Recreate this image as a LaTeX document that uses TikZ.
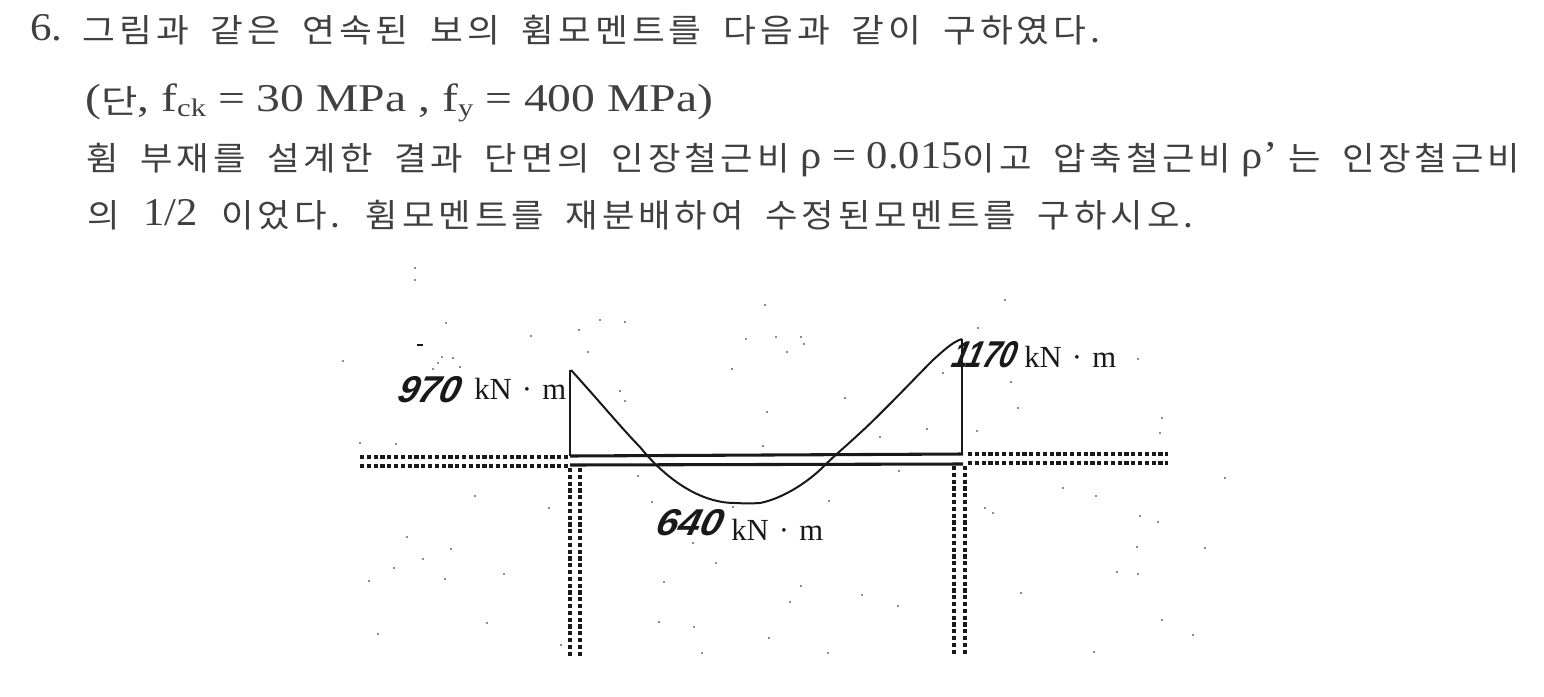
\documentclass[tikz,border=0pt]{standalone}
\usepackage{fontspec}
\setmainfont{Liberation Serif}
\newfontfamily\krfont[LetterSpace=11]{Noto Sans CJK KR}
\newfontfamily\hwfont{Liberation Sans}
\newcommand{\kr}[1]{\raisebox{-2pt}{\fontsize{24.5}{26}\krfont\spaceskip=15pt\relax #1}}
\newcommand{\fitline}[2]{\resizebox{#1}{\height}{#2}}
\newcommand{\hand}[2]{\resizebox{#1}{\height}{\fontsize{28}{30}\selectfont\hwfont\bfseries\itshape #2}}
\newcommand{\subs}[1]{\raisebox{-4pt}{\fontsize{19}{19}\selectfont #1}}
\definecolor{ink}{gray}{0.25}
\definecolor{scan}{gray}{0.1}
\tikzset{
  textline/.style={anchor=base west,inner sep=0pt,text=ink,font=\fontsize{29.5}{32}\selectfont},
  unitlabel/.style={anchor=base west,inner sep=0pt,text=scan,font=\fontsize{23}{26}\selectfont},
  handnum/.style={anchor=base west,inner sep=0pt,text=scan,xslant=0.25},
  dotted rail/.style={draw=scan,line width=3pt,dash pattern=on 3.2pt off 1.9pt},
  beamline/.style={draw=scan,line width=2.3pt},
  thinline/.style={draw=scan,line width=1.1pt},
  curve line/.style={draw=scan,line width=1.5pt,line join=round}
}
\begin{document}
\begin{tikzpicture}[x=0.75pt,y=-0.75pt]
\useasboundingbox (0,0) rectangle (1544,696);
% problem text
\node[textline] (l1) at (30,40) {\fitline{1070\dimexpr0.75pt\relax}{6.\hspace{4pt} \kr{그림과 같은 연속된 보의 휨모멘트를 다음과 같이 구하였다.}}};
\node[textline] (l2) at (85,111) {\fitline{628\dimexpr0.75pt\relax}{(\kr{단}, f\subs{ck} = 30 MPa , f\subs{y} = 400 MPa)}};
\node[textline] (l3) at (86,168) {\fitline{1434\dimexpr0.75pt\relax}{\kr{휨 부재를 설계한 결과 단면의 인장철근비} ρ = 0.015\kr{이고 압축철근비} ρ' \kr{는 인장철근비}}};
\node[textline] (l4) at (87,225) {\fitline{1106\dimexpr0.75pt\relax}{\kr{의}\hspace{9pt} 1/2\hspace{9pt} \kr{이었다. 휨모멘트를 재분배하여 수정된모멘트를 구하시오.}}};
% beam rails
\draw[dotted rail] (360,457) -- (570,457);
\draw[dotted rail] (360,466) -- (570,466);
\draw[dotted rail] (968,454) -- (1168,454);
\draw[dotted rail] (968,463) -- (1168,463);
\draw[dotted rail] (569.5,468) -- (569.5,658);
\draw[dotted rail] (580,468) -- (580,658);
\draw[dotted rail] (954,466) -- (954,654);
\draw[dotted rail] (965,466) -- (965,654);
\draw[beamline] (570,456) -- (963,454);
\draw[beamline] (570,465) -- (963,464);
% moment diagram
\draw[thinline] (570,370) -- (570,456);
\draw[thinline] (962,339) -- (962,454);
\draw[curve line] (571,370) .. controls (600,402) and (625,432) .. (640,447)
  .. controls (660,472) and (695,503) .. (735,503)
  .. controls (745,503.5) and (752,503.5) .. (760,503)
  .. controls (785,498) and (810,480) .. (823,467)
  .. controls (835,455) and (845,447) .. (860,433)
  .. controls (880,415) and (915,378) .. (933,360)
  .. controls (942,352) and (952,342) .. (962,339);
% labels
\node[handnum] (m1) at (396,402) {\hand{62\dimexpr0.75pt\relax}{970}};
\node[unitlabel] (u1) at (474,399) {kN\,\,·\,\,m};
\node[handnum] (m2) at (950,367) {\hand{64\dimexpr0.75pt\relax}{1170}};
\node[unitlabel] (u2) at (1024,367) {kN\,\,·\,\,m};
\node[handnum] (m3) at (654,535) {\hand{66\dimexpr0.75pt\relax}{640}};
\node[unitlabel] (u3) at (731,540) {kN\,\,·\,\,m};
% scan specks
\foreach \p in {(415,268),(415,280),(765,305),(1005,300),(600,320),(1225,478),(1205,548),(1162,620),(1193,635),
 (446,323),(625,322),(579,330),(531,336),(343,361),(442,357),(438,363),(460,367),(433,369),(453,358),(588,352),
 (732,369),(746,339),(620,391),(625,401),(396,444),(360,443),(475,496),(549,508),(652,502),(733,507),(407,537),
 (451,549),(423,559),(394,568),(369,581),(445,579),(504,574),(664,582),(716,563),(487,623),(378,634),(659,622),
 (694,627),(702,653),(561,645),(693,543),(638,476),(776,337),(801,337),(804,344),(787,352),(978,328),(767,412),
 (845,398),(943,373),(927,429),(880,437),(763,446),(977,431),(1018,408),(1011,382),(1138,359),(1162,418),(1160,433),
 (829,501),(899,471),(1063,488),(1096,496),(985,508),(993,513),(1140,516),(1158,522),(1137,547),(1117,572),(1138,574),
 (1021,593),(862,595),(790,602),(801,586),(898,606),(769,638),(828,653),(1094,652)}
  \fill[scan] \p circle (0.8);
\fill[scan] (417,344) rectangle (423,346);
\end{tikzpicture}
\end{document}
